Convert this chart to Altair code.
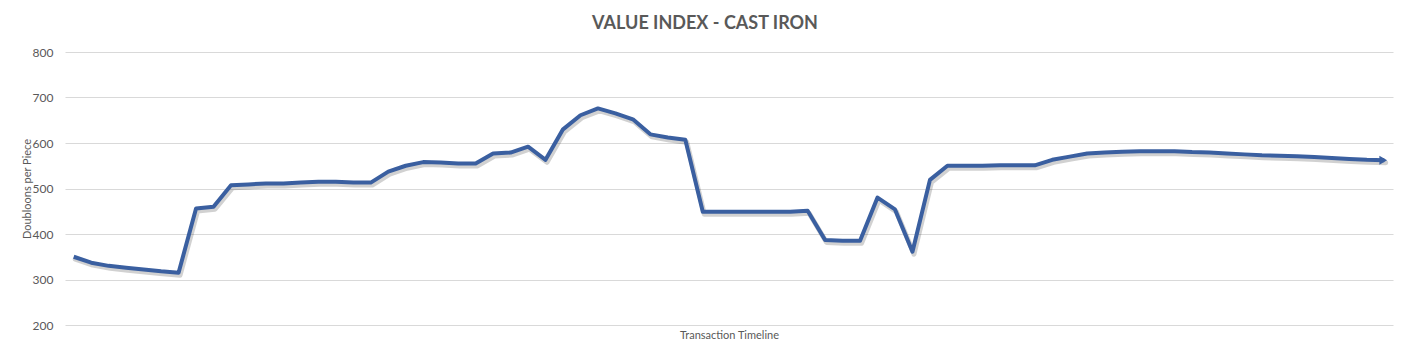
import altair as alt
import pandas as pd

values = [350, 337, 330, 326, 322, 318, 315, 456, 460, 507,
          509, 511, 511, 513, 515, 515, 513, 513, 537, 550,
          558, 557, 555, 555, 577, 579, 592, 563, 630, 661,
          676, 665, 652, 619, 612, 607, 449, 449, 449, 449,
          449, 449, 451, 387, 385, 385, 480, 454, 361, 519,
          550, 550, 550, 551, 551, 551, 563, 570, 577, 579,
          581, 582, 582, 582, 580, 579, 577, 575, 573, 572,
          571, 569, 567, 565, 563, 562]
y_ticks = [200, 300, 400, 500, 600, 700, 800]
title_text = "VALUE INDEX - CAST IRON"
x_title = "Transaction Timeline"
y_title = "Doubloons per Piece"

df = pd.DataFrame({"i": list(range(len(values))), "v": values})
last = df.tail(1)

FONT = "Lato"
GRAY = "#595959"
BLUE = "#3A5FA0"

x_enc = alt.X(
    "i:Q",
    scale=alt.Scale(domain=[-0.5, len(values) - 0.5], nice=False, zero=False),
    axis=alt.Axis(labels=False, ticks=False, domain=False, grid=False,
                  title=x_title, titleFont=FONT, titleFontSize=11,
                  titleFontWeight="normal", titleColor=GRAY, titlePadding=4),
)
y_enc = alt.Y(
    "v:Q",
    scale=alt.Scale(domain=[200, 800], nice=False, zero=False),
    axis=alt.Axis(values=y_ticks, grid=True, gridColor="#d9d9d9", gridWidth=1,
                  domain=False, ticks=False, labelPadding=12,
                  labelFont=FONT, labelFontSize=12, labelColor=GRAY,
                  title=y_title, titleFont=FONT, titleFontSize=11,
                  titleFontWeight="normal", titleColor=GRAY, titlePadding=0),
)

shadow = alt.Chart(df).mark_line(
    color="#000000", opacity=0.18, strokeWidth=5, xOffset=1.5, yOffset=2.5,
    strokeJoin="round", strokeCap="round"
).encode(x=x_enc, y=y_enc)

line = alt.Chart(df).mark_line(
    color=BLUE, strokeWidth=4, strokeJoin="round", strokeCap="butt"
).encode(x=x_enc, y=y_enc)

arrow = alt.Chart(last).mark_point(
    shape="triangle-right", filled=True, color=BLUE, opacity=1, size=80, xOffset=-1
).encode(x=x_enc, y=y_enc)

chart = alt.layer(shadow, line, arrow).properties(
    width=1328,
    height=273,
    padding={"left": 57, "top": 44, "right": 7, "bottom": 26},
    autosize=alt.AutoSizeParams(type="none"),
    title=alt.TitleParams(title_text, font=FONT, fontSize=18, fontWeight="bold",
                          color=GRAY, anchor="middle", frame="group",
                          offset=13, dx=-24),
    background="white",
).configure_view(strokeWidth=0)

chart.save("out.html", embed_options={"renderer": "svg", "actions": False})
